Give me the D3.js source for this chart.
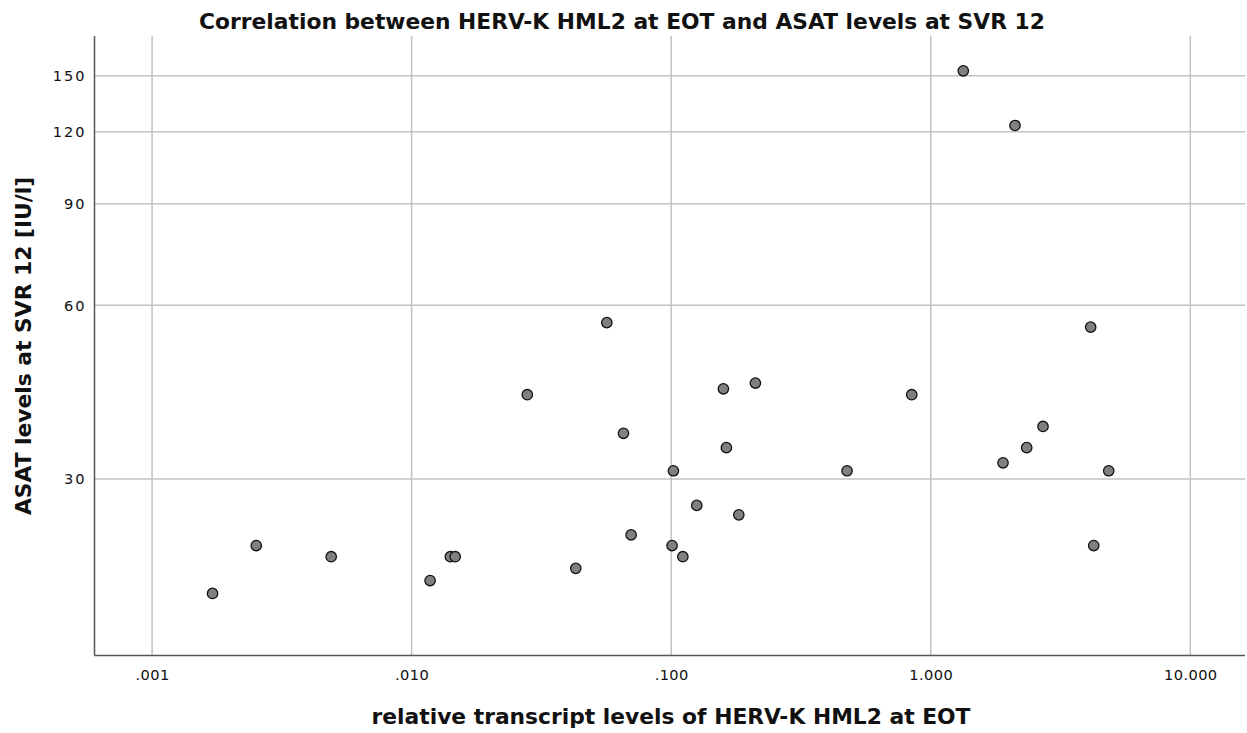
<!DOCTYPE html>
<html>
<head>
<meta charset="utf-8">
<script src="https://cdn.jsdelivr.net/npm/d3@7"></script>
<style>
  html, body { margin: 0; padding: 0; background: #fff; }
  svg { display: block; }
  text { font-family: "DejaVu Sans", "Open Sans", sans-serif; fill: #111; }
  .tick text { font-size: 14.6px; }
  .x-axis .tick text { letter-spacing: 0.4px; }
  .y-axis .tick text { letter-spacing: 2px; }
</style>
</head>
<body>
<svg id="chart" width="1247" height="733"></svg>
<script>
// HERV-K HML2 relative transcript levels at end of treatment (x)
const hervLevels = [
  0.00171, 0.00252, 0.00490, 0.01178, 0.01410, 0.01472, 0.0279, 0.0429,
  0.0565, 0.0655, 0.0701, 0.1008, 0.1020, 0.1109, 0.1255, 0.1589, 0.1632,
  0.1822, 0.2111, 0.476, 0.845, 1.335, 1.899, 2.112, 2.343, 2.708,
  4.133, 4.246, 4.850
];
// ASAT levels at SVR 12 in IU/l (y), same order as above
const asatLevels = [
  19, 23, 22, 20, 22, 22, 42, 21,
  56, 36, 24, 23, 31, 22, 27, 43, 34,
  26, 44, 31, 42, 153, 32, 123, 34, 37,
  55, 23, 31
];
const xTickValues = [0.001, 0.01, 0.1, 1, 10];
const xTickLabels = [".001", ".010", ".100", "1.000", "10.000"];
const yTickValues = [30, 60, 90, 120, 150];

const titleText = "Correlation between HERV-K HML2 at EOT and ASAT levels at SVR 12";
const xTitle = "relative transcript levels of HERV-K HML2 at EOT";
const yTitle = "ASAT levels at SVR 12 [IU/l]";

const points = hervLevels.map((x, i) => ({ x, y: asatLevels[i] }));

const svg = d3.select("#chart");
const margin = { left: 94.5, right: 1245, top: 36, bottom: 655.5 };

const x = d3.scaleLog()
  .domain([0.000600, 16.25])
  .range([margin.left, margin.right]);
const y = d3.scaleLog()
  .domain([14.83, 175.8])
  .range([margin.bottom, margin.top]);

// grid lines
const grid = svg.append("g").attr("class", "grid");
grid.selectAll("line.v").data(xTickValues).join("line")
  .attr("class", "v")
  .attr("x1", d => x(d)).attr("x2", d => x(d))
  .attr("y1", margin.top).attr("y2", margin.bottom)
  .attr("stroke", "#c2c2c2").attr("stroke-width", 1.5);
grid.selectAll("line.h").data(yTickValues).join("line")
  .attr("class", "h")
  .attr("y1", d => y(d)).attr("y2", d => y(d))
  .attr("x1", margin.left).attr("x2", margin.right)
  .attr("stroke", "#c2c2c2").attr("stroke-width", 1.5);

// axes
const xAxis = d3.axisBottom(x)
  .tickValues(xTickValues)
  .tickFormat((d, i) => xTickLabels[i])
  .tickSize(0).tickPadding(14);
const gx = svg.append("g")
  .attr("class", "x-axis")
  .attr("transform", `translate(0,${margin.bottom})`)
  .call(xAxis)
  .attr("font-family", null).attr("font-size", null);
gx.select(".domain").attr("stroke", "#555").attr("stroke-width", 1.5)
  .attr("d", `M${margin.left},0H${margin.right}`);
gx.selectAll("text").attr("fill", "#111");

const yAxis = d3.axisLeft(y)
  .tickValues(yTickValues)
  .tickFormat(d3.format("d"))
  .tickSize(0).tickPadding(8);
const gy = svg.append("g")
  .attr("class", "y-axis")
  .attr("transform", `translate(${margin.left},0)`)
  .call(yAxis)
  .attr("font-family", null).attr("font-size", null);
gy.select(".domain").attr("stroke", "#555").attr("stroke-width", 1.5)
  .attr("d", `M0,${margin.top}V${margin.bottom}`);
gy.selectAll("text").attr("fill", "#111");

// points
svg.append("g").selectAll("circle").data(points).join("circle")
  .attr("cx", d => x(d.x))
  .attr("cy", d => y(d.y))
  .attr("r", 5.2)
  .attr("fill", "#808080")
  .attr("stroke", "#111")
  .attr("stroke-width", 1.3);

// titles
svg.append("text")
  .attr("x", 622).attr("y", 29)
  .attr("text-anchor", "middle")
  .attr("font-size", 21.8).attr("font-weight", "bold")
  .text(titleText);
svg.append("text")
  .attr("x", 671).attr("y", 724)
  .attr("text-anchor", "middle")
  .attr("font-size", 21.8).attr("font-weight", "bold")
  .text(xTitle);
svg.append("text")
  .attr("transform", "translate(31,346) rotate(-90)")
  .attr("text-anchor", "middle")
  .attr("font-size", 21.8).attr("font-weight", "bold")
  .text(yTitle);
</script>
</body>
</html>
